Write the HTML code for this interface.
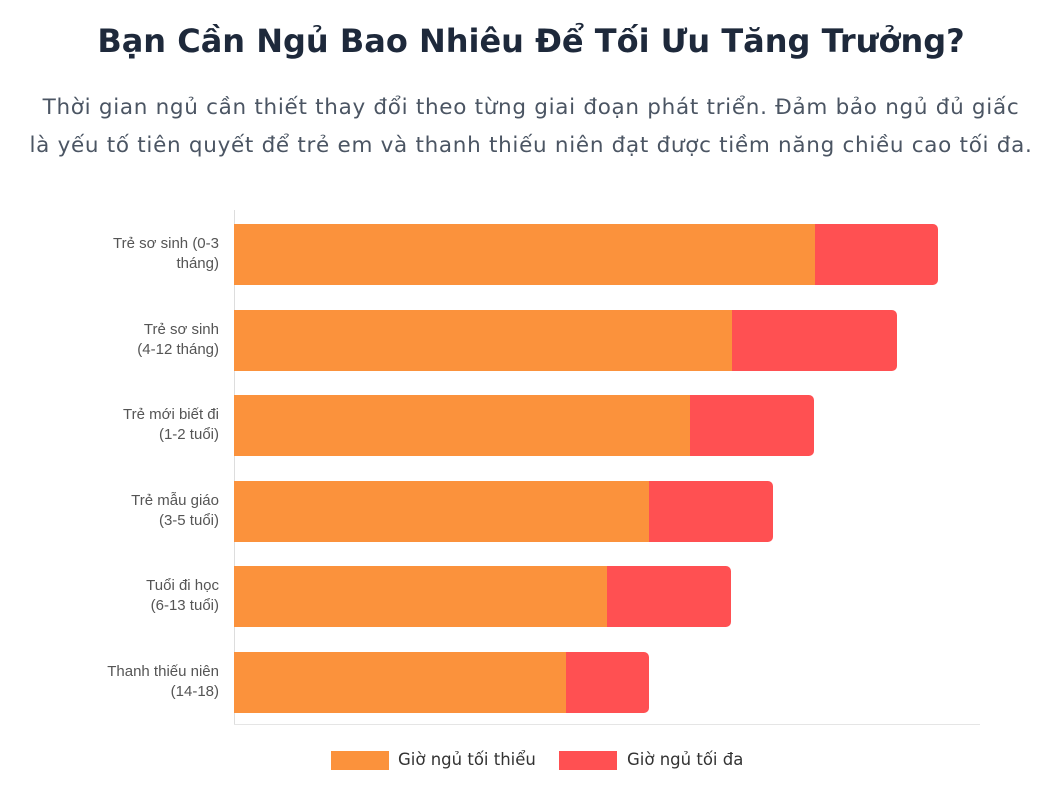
<!DOCTYPE html>
<html><head><meta charset="utf-8"><style>
body{margin:0;width:1062px;height:810px;background:#fff;font-family:"Liberation Sans","DejaVu Sans",sans-serif;position:relative;overflow:hidden}
.t{position:absolute;left:0;width:1062px;text-align:center;top:22px;font-size:32px;font-weight:bold;color:#1e293b;font-family:"DejaVu Sans",sans-serif;white-space:nowrap}
.s{position:absolute;left:0;width:1062px;text-align:center;top:89px;font-size:21.5px;line-height:38px;color:#4b5563;font-family:"DejaVu Sans",sans-serif;letter-spacing:0.7px;white-space:nowrap}
.l{position:absolute;right:843px;text-align:right;font-size:15px;line-height:20px;color:#555}
.b{position:absolute;height:61px}
.o{background:#fb923c;left:234px}
.r{background:#ff5052;border-radius:0 5px 5px 0}
.lg{position:absolute;top:751px;height:19px;width:58px}
.lt{position:absolute;top:750px;font-size:16.5px;color:#333;font-family:"DejaVu Sans",sans-serif}
</style></head><body>
<div class="t">Bạn Cần Ngủ Bao Nhiêu Để Tối Ưu Tăng Trưởng?</div>
<div class="s">Thời gian ngủ cần thiết thay đổi theo từng giai đoạn phát triển. Đảm bảo ngủ đủ giấc<br>là yếu tố tiên quyết để trẻ em và thanh thiếu niên đạt được tiềm năng chiều cao tối đa.</div>
<div style="position:absolute;left:234px;top:210px;width:1px;height:515px;background:#ddd"></div>
<div style="position:absolute;left:234px;top:724px;width:746px;height:1px;background:#e5e5e5"></div>

<div class="b o" style="top:224px;width:581px"></div><div class="b r" style="top:224px;left:815px;width:123px"></div>
<div class="b o" style="top:310px;width:498px"></div><div class="b r" style="top:310px;left:732px;width:165px"></div>
<div class="b o" style="top:395px;width:456px"></div><div class="b r" style="top:395px;left:690px;width:124px"></div>
<div class="b o" style="top:481px;width:415px"></div><div class="b r" style="top:481px;left:649px;width:124px"></div>
<div class="b o" style="top:566px;width:373px"></div><div class="b r" style="top:566px;left:607px;width:124px"></div>
<div class="b o" style="top:652px;width:332px"></div><div class="b r" style="top:652px;left:566px;width:83px"></div>

<div class="l" style="top:234px">Trẻ sơ sinh (0-3<br>tháng)</div>
<div class="l" style="top:320px">Trẻ sơ sinh<br>(4-12 tháng)</div>
<div class="l" style="top:405px">Trẻ mới biết đi<br>(1-2 tuổi)</div>
<div class="l" style="top:491px">Trẻ mẫu giáo<br>(3-5 tuổi)</div>
<div class="l" style="top:576px">Tuổi đi học<br>(6-13 tuổi)</div>
<div class="l" style="top:662px">Thanh thiếu niên<br>(14-18)</div>

<div class="lg" style="left:331px;background:#fb923c"></div><div class="lt" style="left:398px">Giờ ngủ tối thiểu</div>
<div class="lg" style="left:559px;background:#ff5052"></div><div class="lt" style="left:627px">Giờ ngủ tối đa</div>
</body></html>
